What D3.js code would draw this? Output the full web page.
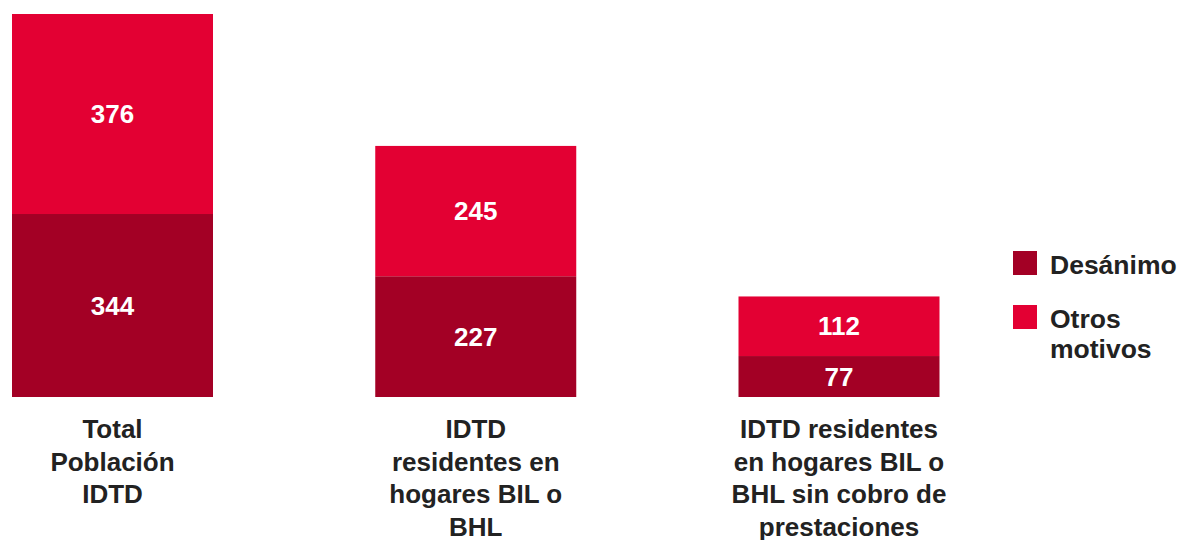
<!DOCTYPE html>
<html>
<head>
<meta charset="utf-8">
<script src="https://cdn.jsdelivr.net/npm/d3@7"></script>
<style>
  html, body { margin: 0; padding: 0; background: #fff; }
  svg { display: block; font-family: "Liberation Sans", Arial, sans-serif; }
</style>
</head>
<body>
<div id="chart"></div>
<script>
// categories (one entry per bar, lines as they wrap in the picture)
const categories = [
  ["Total", "Población", "IDTD"],
  ["IDTD", "residentes en", "hogares BIL o", "BHL"],
  ["IDTD residentes", "en hogares BIL o", "BHL sin cobro de", "prestaciones"]
];
// series values, bottom segment first
const seriesNames = ["Desánimo", "Otros motivos"];
const desanimo = [344, 227, 77];
const otrosMotivos = [376, 245, 112];
const legendLines = [["Desánimo"], ["Otros", "motivos"]];
const colors = ["#a30025", "#e30033"];

const width = 1182, height = 540;
const svg = d3.select("#chart").append("svg")
  .attr("width", width)
  .attr("height", height);

const rows = categories.map((c, i) => ({
  key: i,
  "Desánimo": desanimo[i],
  "Otros motivos": otrosMotivos[i]
}));

const stack = d3.stack().keys(seriesNames);
const stacked = stack(rows);

// bar centres placed on a point scale, fixed bar width
const x = d3.scalePoint()
  .domain(d3.range(categories.length))
  .range([112.5, 839]);
const barW = 201;

const y = d3.scaleLinear()
  .domain([0, d3.max(rows, d => d["Desánimo"] + d["Otros motivos"])])
  .range([397, 14]);

const color = d3.scaleOrdinal().domain(seriesNames).range(colors);

const layers = svg.append("g")
  .selectAll("g")
  .data(stacked)
  .join("g")
  .attr("fill", d => color(d.key));

layers.selectAll("rect")
  .data(d => d)
  .join("rect")
  .attr("x", d => x(d.data.key) - barW / 2)
  .attr("y", d => y(d[1]))
  .attr("width", barW)
  .attr("height", d => y(d[0]) - y(d[1]));

// value labels in the middle of each segment
layers.selectAll("text")
  .data(d => d)
  .join("text")
  .attr("x", d => x(d.data.key))
  .attr("y", d => (y(d[0]) + y(d[1])) / 2)
  .attr("dy", "0.35em")
  .attr("text-anchor", "middle")
  .attr("fill", "#fff")
  .attr("font-size", 26)
  .attr("font-weight", "bold")
  .text(d => d[1] - d[0]);

// category labels under the bars
const catG = svg.append("g")
  .selectAll("text")
  .data(categories)
  .join("text")
  .attr("text-anchor", "middle")
  .attr("fill", "#222")
  .attr("font-size", 26)
  .attr("font-weight", "bold");

catG.selectAll("tspan")
  .data((d, i) => d.map(line => ({ line, i })))
  .join("tspan")
  .attr("x", d => x(d.i))
  .attr("y", (d, j) => 438 + j * 32.5)
  .text(d => d.line);

// legend
const legend = svg.append("g")
  .selectAll("g")
  .data(seriesNames)
  .join("g")
  .attr("transform", (d, i) => `translate(1013, ${251 + i * 54})`);

legend.append("rect")
  .attr("width", 24)
  .attr("height", 24)
  .attr("fill", d => color(d));

legend.append("text")
  .attr("fill", "#222")
  .attr("font-size", 26.5)
  .attr("font-weight", "bold")
  .selectAll("tspan")
  .data((d, i) => legendLines[i])
  .join("tspan")
  .attr("x", 37)
  .attr("y", (d, j) => 23 + j * 30)
  .text(d => d);
</script>
</body>
</html>
